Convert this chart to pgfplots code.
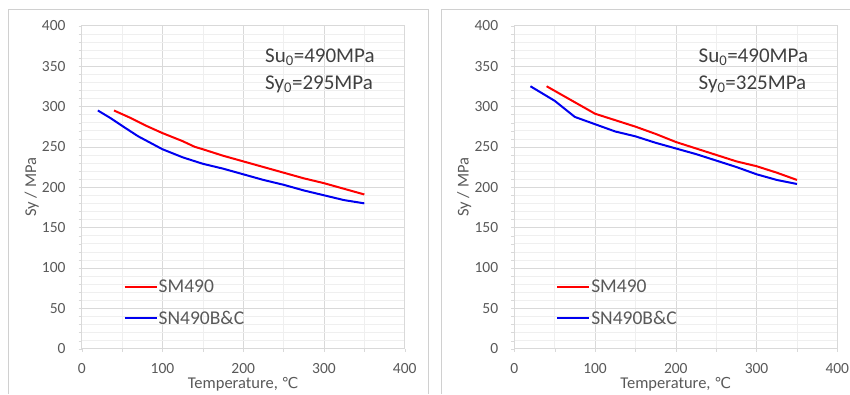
\documentclass[border=0pt]{standalone}
\usepackage{fontspec}
\setmainfont{Carlito}
\newfontfamily\dejavu{DejaVu Sans}
\usepackage{pgfplots}
\pgfplotsset{compat=1.18}
\definecolor{tickgrey}{HTML}{595959}
\definecolor{majgrid}{HTML}{D9D9D9}
\definecolor{mingrid}{HTML}{EFEFEF}
\definecolor{annot}{HTML}{404040}
\definecolor{panel}{HTML}{D0D0D0}
\definecolor{sred}{HTML}{FF0000}
\definecolor{sblue}{HTML}{0000F0}

\pgfplotsset{
  panelaxis/.style={
    scale only axis,
    width=323pt, height=323pt,
    xmin=0, xmax=400, ymin=0, ymax=400,
    xtick={0,100,...,400}, ytick={0,50,...,400},
    minor x tick num=1, minor y tick num=4,
    grid=both,
    major grid style={draw=majgrid, line width=0.6pt},
    minor grid style={draw=mingrid, line width=0.5pt},
    axis line style={draw=majgrid, line width=0.8pt},
    tick style={draw=majgrid},
    tick align=outside,
    major tick length=3pt, minor tick length=3pt,
    xtick pos=bottom, ytick pos=left,
    /pgf/number format/assume math mode=true,
    ticklabel style={font=\fontsize{15.5}{17}\selectfont, text=tickgrey},
    yticklabel style={anchor=east, inner sep=0pt, xshift=-13pt},
    xticklabel style={anchor=center, inner sep=0pt, yshift=-17pt},
    xlabel={Temperature, {\dejavu\fontsize{15}{17}\selectfont ℃}},
    ylabel={Sy / MPa},
    xlabel style={at={(axis description cs:0.5,0)}, anchor=center, yshift=-36pt, inner sep=0pt,
      font=\fontsize{16.5}{18}\selectfont, text=tickgrey},
    ylabel style={at={(axis description cs:0,0.5)}, anchor=center, yshift=50pt, inner sep=0pt,
      font=\fontsize{16.5}{18}\selectfont, text=tickgrey},
    legend style={draw=none, fill=none, at={(axis cs:48,56.75)}, anchor=west,
      font=\fontsize{19.5}{21}\selectfont, text=tickgrey,
      nodes={inner sep=1pt}, row sep=14.5pt},
    legend cell align=left,
    legend image code/.code={\draw[#1, line width=2pt] (0pt,0pt) -- (32pt,0pt);},
  }
}

\begin{document}
\begin{tikzpicture}[x=1pt,y=1pt]
\useasboundingbox (0,0) rectangle (850,394);
\draw[panel, line width=0.8pt] (8.5,0) -- (8.5,385) -- (428.5,385) -- (428.5,0);
\draw[panel, line width=0.8pt] (441,0) -- (441,385) -- (851,385);

\begin{axis}[panelaxis, at={(81.7pt,45.3pt)}, anchor=south west]
\addplot[sred, line width=2pt] coordinates {
(40,295) (60,286) (80,276) (100,267) (125,257) (140,250) (150,247) (175,239)
(200,232) (225,225) (250,218) (275,211) (300,205) (325,198) (350,191)};
\addlegendentry{SM490}
\addplot[sblue, line width=2pt] coordinates {
(20,295) (35,286) (50,276) (70,263) (85,255) (100,247) (125,237) (150,229)
(175,223) (200,216) (225,209) (250,203) (275,196) (300,190) (325,184) (350,180)};
\addlegendentry{SN490B\&C}
\node[anchor=west, inner sep=0pt, text=annot, font=\fontsize{21}{23}\selectfont] at (axis cs:227,361) {Su\textsubscript{0}=490MPa};
\node[anchor=west, inner sep=0pt, text=annot, font=\fontsize{21}{23}\selectfont] at (axis cs:227,327) {Sy\textsubscript{0}=295MPa};
\end{axis}

\begin{axis}[panelaxis, at={(514.3pt,45.3pt)}, anchor=south west]
\addplot[sred, line width=2pt] coordinates {
(40,325) (70,308) (100,291) (125,283) (150,275) (175,266) (200,256) (225,248)
(250,240) (275,232) (300,226) (325,218) (350,209)};
\addlegendentry{SM490}
\addplot[sblue, line width=2pt] coordinates {
(20,325) (50,307) (75,287) (100,278) (125,269) (150,263) (175,255) (200,248)
(225,241) (250,233) (275,225) (300,216) (325,209) (350,204)};
\addlegendentry{SN490B\&C}
\node[anchor=west, inner sep=0pt, text=annot, font=\fontsize{21}{23}\selectfont] at (axis cs:228,361) {Su\textsubscript{0}=490MPa};
\node[anchor=west, inner sep=0pt, text=annot, font=\fontsize{21}{23}\selectfont] at (axis cs:228,327) {Sy\textsubscript{0}=325MPa};
\end{axis}
\end{tikzpicture}
\end{document}
